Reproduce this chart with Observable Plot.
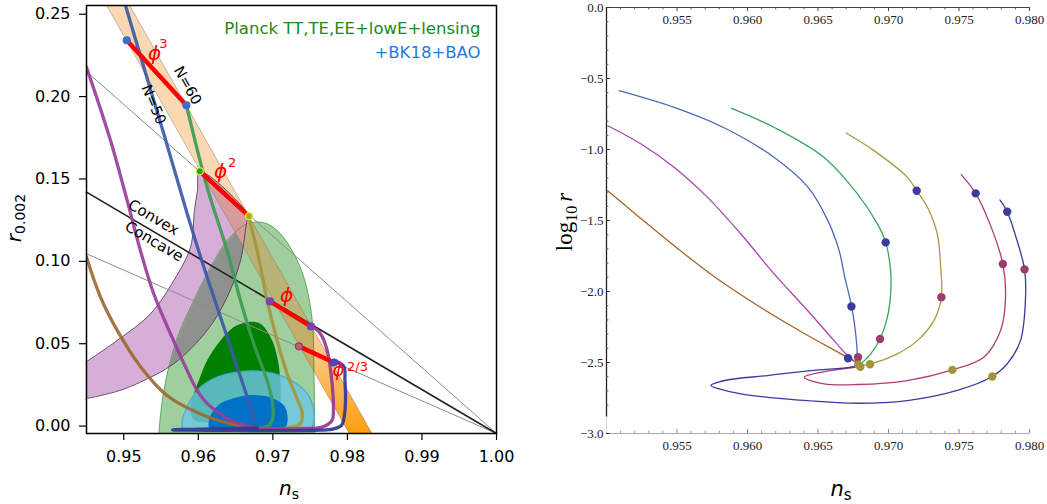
<!DOCTYPE html>
<html><head><meta charset="utf-8">
<script src="https://cdn.jsdelivr.net/npm/d3@7"></script>
<script src="https://cdn.jsdelivr.net/npm/@observablehq/plot@0.6"></script>
<style>
html,body{margin:0;padding:0;background:#fff;}
#wrap{position:relative;width:1047px;height:504px;overflow:hidden;background:#fff;}
#left{position:absolute;left:0;top:0;}
#right{position:absolute;left:530px;top:0;}
</style></head><body><div id="wrap"><div id="left"></div><div id="right"></div></div>
<script>
// ===================== LEFT PANEL DATA (n_s, r_0.002) =====================
const leftXTicks = [0.95, 0.96, 0.97, 0.98, 0.99, 1.00];
const leftYTicks = [0.00, 0.05, 0.10, 0.15, 0.20, 0.25];

const planck95 = [[0.9547,-0.0046],[0.95516,0.0156],[0.95604,0.0358],[0.95738,0.0561],[0.95939,0.0763],[0.96164,0.0965],[0.96387,0.1127],[0.9661,0.1218],[0.96744,0.1238],[0.96924,0.1228],[0.97103,0.1167],[0.97281,0.1046],[0.97415,0.0904],[0.97505,0.0722],[0.97541,0.0561],[0.97549,0.0358],[0.97559,0.0156],[0.97559,-0.0046]];
const planck68 = [[0.9594,0.004],[0.95895,0.0126],[0.95939,0.0197],[0.96007,0.0277],[0.96119,0.0399],[0.96298,0.052],[0.96476,0.0601],[0.96656,0.0631],[0.96834,0.0621],[0.96991,0.052],[0.97058,0.0419],[0.97093,0.0318],[0.97103,0.0156],[0.9705,0.005],[0.969,0.002],[0.962,0.002]];
const bk95 = [[0.95784,-0.0015],[0.95784,0.0035],[0.95828,0.0095],[0.95985,0.0217],[0.96253,0.0297],[0.96656,0.0334],[0.97013,0.0318],[0.97281,0.0267],[0.97461,0.0197],[0.97549,0.0095],[0.97528,-0.0006],[0.97438,-0.0015]];
const bk68 = [[0.96141,-0.0015],[0.96141,0.0035],[0.96204,0.0095],[0.96325,0.0144],[0.96566,0.018],[0.96727,0.0189],[0.96968,0.0174],[0.97147,0.0126],[0.97197,0.0059],[0.97176,-0.0002],[0.97103,-0.0015]];
const natural = [[0.9449,0.0388],[0.94912,0.052],[0.95359,0.0682],[0.95671,0.0884],[0.95895,0.1086],[0.95948,0.1309],[0.95988,0.143],[0.9602,0.1545],[0.9668,0.1274],[0.96655,0.1248],[0.96566,0.1005],[0.96387,0.0783],[0.96119,0.0581],[0.95671,0.0379],[0.95224,0.0267],[0.94912,0.0211],[0.9449,0.0166]];
const bandUpper = [[0.9477,0.2553],[0.9508,0.2553],[0.97336,0.075],[0.9703,0.075]];
const bandLower = [[0.9703,0.075],[0.97336,0.075],[0.9833,-0.0045],[0.98024,-0.0045]];
const bandEdgeN50 = [[0.9477,0.2553],[0.98024,-0.0045]];
const bandEdgeN60 = [[0.9508,0.2553],[0.9833,-0.0045]];
const grayP2 = [[0.945,0.2152],[1.0,-0.0045]];
const grayP23 = [[0.945,0.1046],[1.0,-0.0045]];
const blackP1 = [[0.945,0.142],[1.0,-0.0045]];
const segPhi3 = [[0.9504,0.2342],[0.9584,0.1947]];
const segPhi2 = [[0.9602,0.1547],[0.9668,0.1274]];
const segPhi1 = [[0.9696,0.0757],[0.9751,0.0605]];
const segPhi23 = [[0.9735,0.0484],[0.9782,0.0386]];

const blueL = [[0.95023,0.2553],[0.95269,0.2178],[0.95537,0.1774],[0.95851,0.1289],[0.96074,0.0965],[0.96298,0.0661],[0.96522,0.0358],[0.967,0.0115],[0.96767,0.0006],[0.9679,-0.0012]];
const greenL = [[0.9584,0.1948],[0.96118,0.145],[0.96386,0.1066],[0.96565,0.0763],[0.96743,0.05],[0.96923,0.0277],[0.9699,0.0156],[0.97003,0.0065],[0.96954,0.0007],[0.9681,-0.0012]];
const oliveL = [[0.96676,0.1268],[0.96789,0.1066],[0.96923,0.0763],[0.97057,0.052],[0.97191,0.0318],[0.97325,0.0166],[0.97392,0.0085],[0.9737,0.0015],[0.97191,-0.0012],[0.96833,-0.0016]];
const magentaL = [[0.97505,0.0611],[0.97639,0.0561],[0.97729,0.0459],[0.97795,0.0257],[0.97812,0.0095],[0.97795,0.0035],[0.97661,-0.0006],[0.9737,-0.0015],[0.97013,-0.0017],[0.96342,-0.0016],[0.96565,-0.0014],[0.96789,-0.0012]];
const navyL = [[0.97818,0.0399],[0.97951,0.0362],[0.97967,0.0277],[0.97975,0.0176],[0.9796,0.0065],[0.9792,0.0004],[0.97818,-0.0017],[0.97638,-0.0025],[0.97013,-0.0027],[0.96342,-0.0026],[0.95654,-0.0023],[0.96029,-0.0018],[0.96793,-0.0013]];
const purpleL = [[0.945,0.2178],[0.94822,0.1734],[0.95045,0.137],[0.95223,0.1066],[0.95402,0.0803],[0.95626,0.0561],[0.9585,0.0338],[0.95984,0.0217],[0.96118,0.0138],[0.96386,0.0047],[0.96632,0.0004],[0.96789,-0.0012]];
const brownL = [[0.945,0.1025],[0.94688,0.0783],[0.94912,0.0581],[0.95223,0.0362],[0.95581,0.0186],[0.9603,0.0074],[0.96476,0.001],[0.96789,-0.0012]];

const leftDots = [
  {ns:0.9504, r:0.2342, model:"phi3"}, {ns:0.9584, r:0.1947, model:"phi3"},
  {ns:0.9602, r:0.1547, model:"phi2a"}, {ns:0.9668, r:0.1274, model:"phi2b"},
  {ns:0.9696, r:0.0757, model:"phi1"}, {ns:0.9751, r:0.0605, model:"phi1"},
  {ns:0.9735, r:0.0484, model:"phi23a"}, {ns:0.9782, r:0.0386, model:"phi23b"}
];
const phiLabels = [
  {ns:0.95412, r:0.2261, text:"ϕ"}, {ns:0.96298, r:0.1545, text:"ϕ"},
  {ns:0.97183, r:0.0793, text:"ϕ"}
];
const phiSmallLabels = [{ns:0.97881, r:0.0338, text:"ϕ"}];
const expLabels = [
  {ns:0.9553, r:0.2318, text:"3"}, {ns:0.96455, r:0.1598, text:"2"},
  {ns:0.98136, r:0.0360, text:"2/3"}
];
const lineLabelsFlat = [{ns:0.95399, r:0.1266, text:"Convex"}, {ns:0.95406, r:0.1121, text:"Concave"}];
const bandLabel60 = [{ns:0.95855, r:0.2067, text:"N=60"}];
const bandLabel50 = [{ns:0.95399, r:0.1952, text:"N=50"}];
const legendLines = [
  {ns:0.99786, r:0.2413, text:"Planck TT,TE,EE+lowE+lensing", key:"planck"},
  {ns:0.99786, r:0.2269, text:"+BK18+BAO", key:"bk"}
];

// ===================== RIGHT PANEL DATA (n_s, log10 r) =====================
const rightXTicks = [0.955, 0.960, 0.965, 0.970, 0.975, 0.980];
const rightYTicks = [-3.0, -2.5, -2.0, -1.5, -1.0, -0.5, 0.0];
const blueR = [[0.9509,-0.586],[0.9548,-0.704],[0.9583,-0.845],[0.9619,-1.056],[0.9643,-1.267],[0.9657,-1.501],[0.9665,-1.712],[0.9669,-1.9],[0.9674,-2.111],[0.9677,-2.322],[0.9678,-2.486],[0.9678,-2.51]];
const greenR = [[0.95887,-0.711],[0.96189,-0.845],[0.96543,-1.056],[0.9678,-1.313],[0.96921,-1.524],[0.9698,-1.654],[0.97015,-1.853],[0.97015,-2.017],[0.96992,-2.182],[0.9694,-2.334],[0.96874,-2.439],[0.96803,-2.51]];
const oliveR = [[0.96699,-0.884],[0.96897,-1.008],[0.97134,-1.196],[0.972,-1.29],[0.97276,-1.407],[0.97346,-1.595],[0.9737,-1.83],[0.97375,-2.041],[0.97322,-2.205],[0.97205,-2.346],[0.97063,-2.439],[0.96869,-2.512],[0.96789,-2.525]];
const magentaR = [[0.97516,-1.177],[0.97618,-1.309],[0.97724,-1.536],[0.97811,-1.806],[0.9783,-2.041],[0.97795,-2.275],[0.97676,-2.463],[0.97453,-2.552],[0.97134,-2.627],[0.9678,-2.655],[0.96543,-2.65],[0.96402,-2.604],[0.96543,-2.565],[0.96789,-2.53]];
const navyR = [[0.9779,-1.355],[0.97842,-1.438],[0.97901,-1.607],[0.97965,-1.844],[0.97972,-2.041],[0.97936,-2.346],[0.97842,-2.51],[0.97736,-2.599],[0.97488,-2.697],[0.97134,-2.768],[0.9678,-2.787],[0.96426,-2.768],[0.96143,-2.745],[0.95953,-2.721],[0.95812,-2.69],[0.95741,-2.662],[0.95847,-2.625],[0.96143,-2.592],[0.96449,-2.557],[0.96732,-2.532],[0.9678,-2.52]];
const purpleR = [[0.95009,-0.8325],[0.95245,-0.961],[0.95481,-1.126],[0.95717,-1.337],[0.95953,-1.595],[0.96189,-1.876],[0.96426,-2.134],[0.96614,-2.346],[0.96709,-2.451],[0.96782,-2.507]];
const brownR = [[0.95009,-1.29],[0.95245,-1.487],[0.95505,-1.698],[0.95783,-1.909],[0.96072,-2.099],[0.96378,-2.282],[0.96697,-2.458],[0.96782,-2.507]];
const dotsNavyR = [[0.972,-1.29],[0.97618,-1.309],[0.97842,-1.438],[0.9698,-1.654],[0.96737,-2.106],[0.96713,-2.47]];
const dotsMagentaR = [[0.97811,-1.806],[0.97965,-1.844],[0.97375,-2.041],[0.9694,-2.334],[0.96784,-2.463]];
const dotsOliveR = [[0.97453,-2.552],[0.97736,-2.599],[0.96869,-2.512],[0.9680,-2.53],[0.96785,-2.515]];

// ===================== LEFT PLOT =====================
const X = d => d[0], Y = d => d[1];
const dotFill = {phi3:"#3d6ec9", phi2a:"#2a9d3a", phi2b:"#9fb030", phi1:"#7b3fb0", phi23a:"#c8683a", phi23b:"#4a48b4"};
const dotStroke = {phi3:"#3d6ec9", phi2a:"#e8e832", phi2b:"#e8e832", phi1:"#7b3fb0", phi23a:"#8a3a9a", phi23b:"#4a48b4"};
const thick = (data, c) => Plot.line(data, {x: X, y: Y, stroke: c, strokeWidth: 3.3, strokeOpacity: 0.92, curve: "catmull-rom", clip: true});
const seg = data => Plot.line(data, {x: X, y: Y, stroke: "#ff0000", strokeWidth: 4.5});
const region = (data, fill, curve = "linear") => Plot.line(data, {x: X, y: Y, curve, fill, stroke: "none"});

// region fill colours (each unique, used afterwards to find the drawn outlines)
const C_GREEN95 = "#9ecf9c", C_NATURAL = "#d7aed8", C_NAT_GREEN = "#8f918f";
const C_BAND = "#f9d8b2", C_BAND_GREEN = "#b9b377", C_BAND_NAT = "#d69c9c";

const left = Plot.plot({
  width: 530, height: 504,
  marginLeft: 86, marginRight: 34, marginTop: 5, marginBottom: 71,
  x: {domain: [0.945, 1.0], axis: null},
  y: {domain: [-0.0045, 0.2553], axis: null},
  color: {type: "identity"},
  style: {fontFamily: "DejaVu Sans", background: "white", color: "black"},
  marks: [
    region(planck95, C_GREEN95, "catmull-rom"),
    Plot.line(planck68, {x: X, y: Y, curve: "catmull-rom-closed", fill: "#008000", stroke: "none"}),
    region(natural, C_NATURAL, "catmull-rom"),
    region(natural, C_NAT_GREEN, "catmull-rom"),
    region(bandUpper, C_BAND),
    region(bandLower, "url(#bandGrad)"),
    region(bandUpper, C_BAND_GREEN),
    region(bandLower, "url(#bandGradG)"),
    region(bandUpper, C_BAND_NAT),
    Plot.line(planck95, {x: X, y: Y, curve: "catmull-rom", stroke: "#3e963e", strokeOpacity: 0.75, strokeWidth: 1}),
    Plot.line(natural, {x: X, y: Y, curve: "catmull-rom", stroke: "#4a304a", strokeWidth: 0.8}),
    Plot.line(bandEdgeN50, {x: X, y: Y, stroke: "#6a5040", strokeWidth: 0.6, strokeOpacity: 0.6}),
    Plot.line(bandEdgeN60, {x: X, y: Y, stroke: "#6a5040", strokeWidth: 0.6, strokeOpacity: 0.6}),
    Plot.line(bk95, {x: X, y: Y, curve: "catmull-rom", fill: "#6cc6e2", fillOpacity: 0.82, stroke: "#4aa8dc", strokeWidth: 1.2}),
    Plot.line(bk68, {x: X, y: Y, curve: "catmull-rom", fill: "#0072c6", stroke: "none"}),
    Plot.line(grayP2, {x: X, y: Y, stroke: "#8c8c8c", strokeWidth: 1}),
    Plot.line(grayP23, {x: X, y: Y, stroke: "#8c8c8c", strokeWidth: 1}),
    Plot.line(blackP1, {x: X, y: Y, stroke: "#222", strokeWidth: 1.6}),
    thick(brownL, "#9b6a34"),
    thick(purpleL, "#9a3e9c"),
    thick(blueL, "#3c5aa6"),
    thick(greenL, "#3d9b55"),
    thick(oliveL, "#a5963c"),
    thick(magentaL, "#963a8e"),
    thick(navyL, "#2f3797"),
    seg(segPhi3), seg(segPhi2), seg(segPhi1), seg(segPhi23),
    Plot.dot(leftDots, {x: "ns", y: "r", r: 3.5, fill: d => dotFill[d.model], stroke: d => dotStroke[d.model], strokeWidth: 1.2}),
    Plot.text(phiLabels, {x: "ns", y: "r", text: "text", fill: "#ff0000", fontSize: 20, fontStyle: "italic"}),
    Plot.text(phiSmallLabels, {x: "ns", y: "r", text: "text", fill: "#ff0000", fontSize: 18, fontStyle: "italic"}),
    Plot.text(expLabels, {x: "ns", y: "r", text: "text", fill: "#ff0000", fontSize: 13}),
    Plot.text(lineLabelsFlat, {x: "ns", y: "r", text: "text", rotate: 30.5, fontSize: 15, fill: "black"}),
    Plot.text(bandLabel60, {x: "ns", y: "r", text: "text", rotate: 61, fontSize: 14.5, fill: "black"}),
    Plot.text(bandLabel50, {x: "ns", y: "r", text: "text", rotate: 67, fontSize: 14.5, fill: "black"}),
    Plot.text(legendLines, {x: "ns", y: "r", text: "text", textAnchor: "end", fontSize: 16.5, fill: d => d.key === "planck" ? "#1a8a1a" : "#1f7ae0"}),
    Plot.axisX(leftXTicks, {anchor: "bottom", tickSize: 7, tickPadding: 10, tickFormat: d3.format(".2f"), fontSize: 16, strokeWidth: 1.2, label: null}),
    Plot.axisY(leftYTicks, {anchor: "left", tickSize: 7, tickPadding: 9, tickFormat: d3.format(".2f"), fontSize: 16, strokeWidth: 1.2, label: null}),
    Plot.frame({stroke: "black", strokeWidth: 1.5})
  ]
});
document.getElementById("left").appendChild(left);
{
  const svg = d3.select(left);
  const defs = svg.insert("defs", ":first-child");
  const g = defs.append("linearGradient").attr("id", "bandGrad").attr("x1", 0).attr("y1", 0).attr("x2", 0).attr("y2", 1);
  g.append("stop").attr("offset", "0%").attr("stop-color", "#f9d8b2");
  g.append("stop").attr("offset", "45%").attr("stop-color", "#fcc27a");
  g.append("stop").attr("offset", "100%").attr("stop-color", "#ff9f10");
  const g2 = defs.append("linearGradient").attr("id", "bandGradG").attr("x1", 0).attr("y1", 0).attr("x2", 0).attr("y2", 1);
  g2.append("stop").attr("offset", "0%").attr("stop-color", "#b9b377");
  g2.append("stop").attr("offset", "45%").attr("stop-color", "#c6ac5e");
  g2.append("stop").attr("offset", "100%").attr("stop-color", "#e0a030");
  // find region groups by their (unique) fill
  const groups = svg.selectAll("g").nodes();
  const byFill = f => groups.filter(n => (n.getAttribute("fill") || "").toLowerCase() === f.toLowerCase());
  const makeClip = (id, fill) => {
    const gs = byFill(fill);
    if (!gs.length) return false;
    const p = gs[0].querySelector("path");
    if (!p) return false;
    const cp = defs.append("clipPath").attr("id", id);
    const cpp = cp.append("path").attr("d", p.getAttribute("d"));
    const tr = p.getAttribute("transform") || gs[0].getAttribute("transform");
    if (tr) cpp.attr("transform", tr);
    return true;
  };
  const okG = makeClip("clipGreen", C_GREEN95);
  const okN = makeClip("clipNatural", C_NATURAL);
  const setClip = (fill, id, ok) => byFill(fill).forEach(n => ok ? n.setAttribute("clip-path", `url(#${id})`) : n.setAttribute("display", "none"));
  setClip(C_NAT_GREEN, "clipGreen", okG);
  setClip(C_BAND_GREEN, "clipGreen", okG);
  setClip("url(#bandGradG)", "clipGreen", okG);
  setClip(C_BAND_NAT, "clipNatural", okN);
  // axis titles
  const ty = svg.append("text").attr("transform", "translate(21,218) rotate(-90)").attr("text-anchor", "middle")
    .attr("font-family", "DejaVu Sans").attr("font-size", 20).attr("fill", "black");
  ty.append("tspan").attr("font-style", "italic").text("r");
  ty.append("tspan").attr("font-size", 14).attr("dy", 4).text("0.002");
  const tx = svg.append("text").attr("transform", "translate(289,495)").attr("text-anchor", "middle")
    .attr("font-family", "DejaVu Sans").attr("font-size", 20).attr("fill", "black");
  tx.append("tspan").attr("font-style", "italic").text("n");
  tx.append("tspan").attr("font-size", 14).attr("dy", 4).text("s");
}

// ===================== RIGHT PLOT =====================
const thin = (data, c) => Plot.line(data, {x: X, y: Y, stroke: c, strokeWidth: 1.3, curve: "catmull-rom"});
const minorX = d3.range(0.951, 0.9795, 0.001).filter(v => Math.abs(Math.round(v * 200) - v * 200) > 1e-6);
const minorY = d3.range(-2.8, -0.05, 0.1).filter(v => Math.abs(Math.round(v * 2) - v * 2) > 1e-6);
const fmt1 = d3.format(".1f"), fmt3 = d3.format(".3f");
const right = Plot.plot({
  width: 517, height: 504,
  marginLeft: 76, marginRight: 18, marginTop: 7, marginBottom: 71,
  x: {domain: [0.950, 0.980], axis: null},
  y: {domain: [-3, 0], axis: null},
  style: {fontFamily: "Liberation Serif", background: "white", color: "#222"},
  marks: [
    Plot.ruleY([0], {stroke: "#444", strokeWidth: 1.1}),
    Plot.ruleY([-3], {stroke: "#aaa", strokeWidth: 1}),
    Plot.ruleX([0.950], {y1: -2.885, y2: 0, stroke: "#222", strokeWidth: 1.3}),
    Plot.ruleX([0.950], {y1: -3, y2: -2.885, stroke: "#ddd", strokeWidth: 1}),
    Plot.ruleY(rightYTicks, {x1: 0.950, x2: 0.95028, stroke: "#333"}),
    Plot.ruleY(minorY, {x1: 0.950, x2: 0.95017, stroke: "#555"}),
    Plot.ruleX(rightXTicks, {y1: -3, y2: -2.972, stroke: "#888"}),
    Plot.ruleX(minorX, {y1: -3, y2: -2.984, stroke: "#999"}),
    Plot.ruleX(rightXTicks, {y1: 0, y2: -0.028, stroke: "#444"}),
    Plot.ruleX(minorX, {y1: 0, y2: -0.016, stroke: "#555"}),
    Plot.text(rightYTicks, {x: 0.950, y: d => d, text: d => fmt1(d), textAnchor: "end", dx: -3, fontSize: 13, fill: "#222"}),
    Plot.text(rightXTicks, {x: d => d, y: -3, text: d => fmt3(d), dy: 12, fontSize: 13, fill: "#222"}),
    Plot.text(rightXTicks, {x: d => d, y: 0, text: d => fmt3(d), dy: 12, fontSize: 13, fill: "#222"}),
    thin(brownR, "#a4662e"),
    thin(purpleR, "#ac46ac"),
    thin(blueR, "#4a6ab8"),
    thin(greenR, "#3aa55a"),
    thin(oliveR, "#a99a3e"),
    thin(magentaR, "#b03c74"),
    thin(navyR, "#3a3aa3"),
    Plot.dot(dotsNavyR, {x: X, y: Y, r: 4.2, fill: "#3c3c9c", stroke: "none"}),
    Plot.dot(dotsMagentaR, {x: X, y: Y, r: 4.2, fill: "#9c3c6c", stroke: "none"}),
    Plot.dot(dotsOliveR, {x: X, y: Y, r: 4.2, fill: "#a09638", stroke: "none"})
  ]
});
document.getElementById("right").appendChild(right);
{
  const svg = d3.select(right);
  const ty = svg.append("text").attr("transform", "translate(42,222) rotate(-90)").attr("text-anchor", "middle")
    .attr("font-family", "Liberation Serif").attr("font-size", 23).attr("fill", "black");
  ty.append("tspan").text("log");
  ty.append("tspan").attr("font-size", 16).attr("dy", 5).text("10");
  ty.append("tspan").attr("font-style", "italic").attr("dy", -5).attr("dx", 4).text("r");
  const tx = svg.append("text").attr("transform", "translate(311,496)").attr("text-anchor", "middle")
    .attr("font-family", "DejaVu Sans").attr("font-size", 21).attr("fill", "black");
  tx.append("tspan").attr("font-style", "italic").text("n");
  tx.append("tspan").attr("font-size", 15).attr("dy", 4).text("s");
}
</script></body></html>
